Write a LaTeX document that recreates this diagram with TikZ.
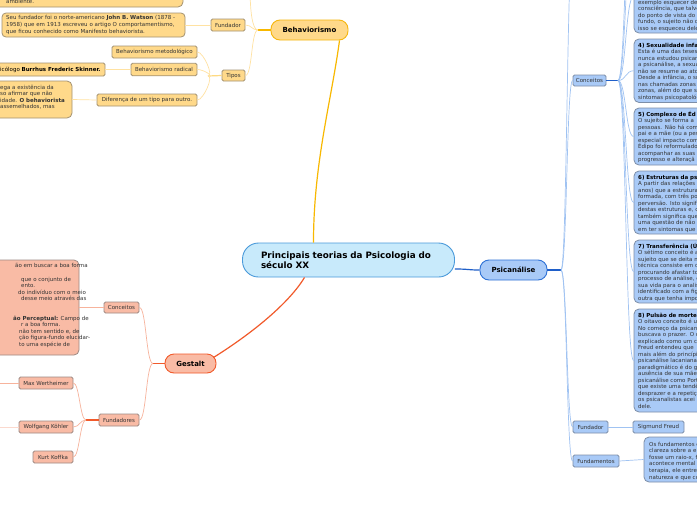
\documentclass[tikz,border=0pt]{standalone}
\usepackage{fontspec}
\setmainfont{DejaVu Sans}
\usepackage{tikz}
\usetikzlibrary{calc}
\definecolor{RootFill}{HTML}{C8EAFB}
\definecolor{RootStroke}{HTML}{4A9ADA}
\definecolor{BehFill}{HTML}{FFD98A}
\definecolor{BehStroke}{HTML}{F6B60E}
\definecolor{BehLeafStroke}{HTML}{A39272}
\definecolor{BehLine}{HTML}{FFE2A2}
\definecolor{BehDark}{HTML}{F8B800}
\definecolor{GesFill}{HTML}{F9BBA5}
\definecolor{GesStroke}{HTML}{F15A2B}
\definecolor{GesLeafStroke}{HTML}{9E8A84}
\definecolor{GesLine}{HTML}{F7B39C}
\definecolor{PsiFill}{HTML}{A9CAF7}
\definecolor{PsiStroke}{HTML}{2F72D6}
\definecolor{PsiLeafStroke}{HTML}{7D8EA8}
\definecolor{PsiLine}{HTML}{A0C3F2}
\definecolor{PsiDark}{HTML}{1F5FC9}
\definecolor{TextGray}{HTML}{333333}

\tikzset{
  topic/.style={draw, rounded corners=9pt, line width=0.9pt, inner sep=1pt,
    font=\bfseries\fontsize{7}{8}\selectfont},
  leaf/.style={draw, rounded corners=1.5pt, line width=0.8pt, inner sep=1pt,
    text=TextGray, font=\fontsize{5.5}{6.5}\selectfont},
  note/.style={draw, rounded corners=5pt, line width=0.8pt, inner sep=0pt},
  frag/.style={anchor=base west, inner sep=0pt, text=TextGray,
    font=\fontsize{5.5}{6.5}\selectfont},
  blk/.style={anchor=base west, inner sep=0pt, text width=110pt, align=left,
    text=TextGray, font=\fontsize{5.5}{6.5}\selectfont},
  link/.style={line width=0.7pt},
  trunk/.style={line width=1.2pt},
}

\begin{document}
\begin{tikzpicture}[x=1pt, y=-1pt]
\useasboundingbox (0,0) rectangle (697,520);
\clip (0,0) rectangle (697,520);
\fill[white] (0,0) rectangle (697,520);

% centre and main topics
\node[draw=RootStroke, fill=RootFill, line width=0.9pt, rounded corners=16pt,
  minimum width=212pt, minimum height=34pt, text width=175pt, align=left,
  font=\bfseries\fontsize{8.8}{10.5}\selectfont] (root) at (348.5,260)
  {Principais teorias da Psicologia do\\século XX};
\node[topic, draw=BehStroke, fill=BehFill, minimum width=77pt, minimum height=20pt] (beh) at (309.5,30) {Behaviorismo};
\node[topic, draw=GesStroke, fill=GesFill, minimum width=51pt, minimum height=19pt] (ges) at (190.5,363.5) {Gestalt};
\node[topic, draw=PsiStroke, fill=PsiFill, minimum width=67pt, minimum height=20pt] (psi) at (513.5,270) {Psicanálise};

\draw[trunk, BehDark] ($(root.north)+(-35,0)$) .. controls +(0,-80) and +(-8,60) .. ($(beh.south)+(30,0)$);
\draw[trunk, GesStroke] ($(root.south)+(-44,0)$) .. controls +(-15,25) and +(40,-25) .. ($(ges.east)+(-3,-6)$);
\draw[trunk, PsiDark] ($(root.east)+(0,9)$) .. controls +(14,0) and +(-12,0) .. (psi.west);

% Behaviorismo
\coordinate (behfan) at (258,30);
\coordinate (behup) at (250,-15);
\node[leaf, draw=BehLeafStroke, fill=BehFill, minimum width=34pt, minimum height=12pt] (bfund) at (228,25) {Fundador};
\node[leaf, draw=BehLeafStroke, fill=BehFill, minimum width=23pt, minimum height=11pt] (tipos) at (233.5,75.5) {Tipos};
\coordinate (tipfan) at (208,76);
\node[leaf, draw=BehLeafStroke, fill=BehFill, minimum width=85pt, minimum height=12pt] (bmet) at (154.5,52) {Behaviorismo metodológico};
\node[leaf, draw=BehLeafStroke, fill=BehFill, minimum width=66pt, minimum height=12.5pt] (brad) at (164,69.5) {Behaviorismo radical};
\node[leaf, draw=BehLeafStroke, fill=BehFill, minimum width=100pt, minimum height=12pt] (bdif) at (147,100) {Diferença de um tipo para outro.};

\node[note, draw=BehLeafStroke, fill=BehFill, minimum width=190pt, minimum height=50pt] (amb) at (88,-18) {};
\node[frag] (ambtxt) at (6,3.5) {ambiente.};
\node[note, draw=BehLeafStroke, fill=BehFill, rounded corners=4pt, minimum width=183pt, minimum height=24pt] (watson) at (93.5,25) {};
\node[blk, text width=200pt, font=\fontsize{5.5}{7}\selectfont] (watsontxt) at (6,19.5)
  {Seu fundador foi o norte-americano \textbf{John B. Watson} (1878 -\\
   1958) que em 1913 escreveu o artigo O comportamentismo,\\
   que ficou conhecido como Manifesto behaviorista.};
\node[leaf, draw=BehLeafStroke, fill=BehFill, minimum width=135pt, minimum height=13pt] (skin) at (37.5,69.5) {};
\node[frag, text=black] (skintxt) at (0,71.5) {icólogo \textbf{Burrhus Frederic Skinner.}};
\node[note, draw=BehLeafStroke, fill=BehFill, minimum width=112pt, minimum height=37pt] (difnote) at (16,99.5) {};
\node[frag] (dif1) at (0,89) {ega a existência da};
\node[frag] (dif2) at (0,95.5) {so afirmar que não};
\node[frag] (dif3) at (0,102) {idade. \textbf{O behaviorista}};
\node[frag] (dif4) at (0,108.5) {assemelhados, mas};

\draw[trunk, BehDark] (beh.west) -- (behfan);
\draw[link, BehLine] (behfan) .. controls +(-6,0) and +(0,25) .. (behup);
\draw[link, BehLine] (behfan) .. controls +(-6,0) and +(6,0) .. (bfund.east);
\draw[link, BehLine] (behfan) .. controls +(-7,0) and +(7,0) .. (tipos.east);
\draw[link, BehLine] (bfund.west) -- (watson.east);
\draw[trunk, BehLine!80!BehDark] (tipos.west) -- (tipfan);
\draw[link, BehLine] (tipfan) .. controls +(6,0) and +(6,0) .. (bmet.east);
\draw[link, BehLine] (tipfan) .. controls +(6,0) and +(6,0) .. (brad.east);
\draw[link, BehLine] (tipfan) .. controls +(6,0) and +(6,0) .. (bdif.east);
\draw[link, BehLine] (brad.west) -- (skin.east);
\draw[link, BehLine] (bdif.west) -- (difnote.east);

% Gestalt
\coordinate (gesfan) at (153,363.5);
\node[leaf, draw=GesLeafStroke, fill=GesFill, minimum width=35pt, minimum height=11pt] (gcon) at (121.5,307.5) {Conceitos};
\node[leaf, draw=GesLeafStroke, fill=GesFill, minimum width=40pt, minimum height=12pt] (gfund) at (119,420) {Fundadores};
\coordinate (fundfan) at (86,420);
\node[leaf, draw=GesLeafStroke, fill=GesFill, minimum width=54pt, minimum height=12pt] (max) at (46,383) {Max Wertheimer};
\node[leaf, draw=GesLeafStroke, fill=GesFill, minimum width=54pt, minimum height=12pt] (kohler) at (46,427) {Wolfgang Köhler};
\node[leaf, draw=GesLeafStroke, fill=GesFill, minimum width=40pt, minimum height=12pt] (koffka) at (53,457) {Kurt Koffka};
\coordinate (maxout) at (-5,383);
\coordinate (kohlerout) at (-5,427);
\node[note, draw=GesLeafStroke, fill=GesFill, minimum width=119pt, minimum height=95pt] (gnote) at (19.5,307.5) {};
\node[frag] (gn1) at (15,267) {ão em buscar a boa forma};
\node[frag] (gn2) at (21,281) {que o conjunto de};
\node[frag] (gn3) at (21,287.5) {ento.};
\node[frag] (gn4) at (18,294) {do indivíduo com o meio};
\node[frag] (gn5) at (21,300.5) {desse meio através das};
\node[frag] (gn6) at (13,320) {\textbf{ão Perceptual:} Campo de};
\node[frag] (gn7) at (21,326.5) {r a boa forma.};
\node[frag] (gn8) at (19,333) {não tem sentido e, de};
\node[frag] (gn9) at (19,339.5) {ção figura-fundo elucidar-};
\node[frag] (gn10) at (19,346) {to uma espécie de};

\draw[trunk, GesStroke] (ges.west) -- (gesfan);
\draw[link, GesLine] (gesfan) .. controls +(-7,0) and +(7,0) .. (gcon.east);
\draw[link, GesLine] (gesfan) .. controls +(-7,0) and +(7,0) .. (gfund.east);
\draw[link, GesLine] (gcon.west) -- (gnote.east);
\draw[trunk, GesStroke] (gfund.west) -- (fundfan);
\draw[link, GesLine] (fundfan) .. controls +(-6,0) and +(6,0) .. (max.east);
\draw[link, GesLine] (fundfan) .. controls +(-6,0) and +(6,0) .. (kohler.east);
\draw[link, GesLine] (fundfan) .. controls +(-6,0) and +(6,0) .. (koffka.east);
\draw[link, GesLine] (max.west) -- (maxout);
\draw[link, GesLine!50] (kohler.west) -- (kohlerout);

% Psicanalise
\coordinate (psifan) at (561,270);
\coordinate (psiup) at (573,-60);
\node[leaf, draw=PsiLeafStroke, fill=PsiFill, minimum width=33pt, minimum height=11pt] (pcon) at (589.5,80.5) {Conceitos};
\coordinate (confan) at (618,80.5);
\node[leaf, draw=PsiLeafStroke, fill=PsiFill, minimum width=35pt, minimum height=12pt] (pfund) at (590.5,427) {Fundador};
\node[leaf, draw=PsiLeafStroke, fill=PsiFill, minimum width=51pt, minimum height=12pt] (freud) at (658.5,427) {Sigmund Freud};
\node[leaf, draw=PsiLeafStroke, fill=PsiFill, minimum width=46pt, minimum height=12pt] (pfundm) at (596,461) {Fundamentos};
\node[note, draw=PsiLeafStroke, fill=PsiFill, minimum width=116pt, minimum height=45pt] (fundnote) at (702,459.5) {};
\node[blk, font=\fontsize{5.5}{6.6}\selectfont] (fundtxt) at (649,446)
  {Os fundamentos e\\clareza sobre a e\\fosse um raio-x, f\\acontece mental r\\terapia, ele entre\\natureza e que co};

\coordinate (c1in) at (634,-160);
\coordinate (c2in) at (634,-85);
\node[note, draw=PsiLeafStroke, fill=PsiFill, minimum width=110pt, minimum height=73pt] (c3) at (689,-3.5) {};
\node[note, draw=PsiLeafStroke, fill=PsiFill, minimum width=110pt, minimum height=63.5pt] (c4) at (689,70.75) {};
\node[note, draw=PsiLeafStroke, fill=PsiFill, minimum width=110pt, minimum height=57pt] (c5) at (689,136.5) {};
\node[note, draw=PsiLeafStroke, fill=PsiFill, minimum width=110pt, minimum height=63pt] (c6) at (689,202.5) {};
\node[note, draw=PsiLeafStroke, fill=PsiFill, minimum width=110pt, minimum height=63pt] (c7) at (689,271.5) {};
\node[note, draw=PsiLeafStroke, fill=PsiFill, minimum width=110pt, minimum height=103pt] (c8) at (689,360.5) {};

\node[blk] (c3t) at (638,4)
  {exemplo esquecer de\\consciência, que talve\\do ponto de vista do\\fundo, o sujeito não c\\isso se esqueceu dele};
\node[blk] (c4t) at (638,47)
  {\textbf{\textcolor{black}{4) Sexualidade infa}}\\Esta é uma das teses\\nunca estudou psican\\a psicanálise, a sexual\\não se resume ao ato\\Desde a infância, o su\\nas chamadas zonas\\zonas, além do que s\\sintomas psicopatológ};
\node[blk] (c5t) at (638,116)
  {\textbf{\textcolor{black}{5) Complexo de Éd}}\\O sujeito se forma a\\pessoas. Não há com\\pai e a mãe (ou a pes\\especial impacto com\\Édipo foi reformulado\\acompanhar as suas\\progresso e alteraçã};
\node[blk] (c6t) at (638,179)
  {\textbf{\textcolor{black}{6) Estruturas da ps}}\\A partir das relações\\anos) que a estrutura\\formada, com três po\\perversão. Isto signif\\destas estruturas e, c\\também significa que\\uma questão de não\\em ter sintomas que};
\node[blk] (c7t) at (638,248)
  {\textbf{\textcolor{black}{7) Transferência (Ú}}\\O sétimo conceito é a\\sujeito que se deita n\\técnica consiste em c\\procurando afastar to\\processo de análise, c\\sua vida para o analis\\identificado com a fig\\outra que tenha impo};
\node[blk] (c8t) at (638,317)
  {\textbf{\textcolor{black}{8) Pulsão de morte}}\\O oitavo conceito é u\\No começo da psicana\\buscava o prazer. O c\\explicado como um c\\Freud entendeu que\\mais além do princípi\\psicanálise lacaniana\\paradigmático é do g\\ausência de sua mãe\\psicanálise como Port\\que existe uma tendê\\desprazer e a repetiç\\os psicanalistas acei\\dele.};

\draw[trunk, PsiDark] (psi.east) -- (psifan);
\draw[link, PsiLine] (psifan) .. controls +(6,0) and +(-6,0) .. (psiup);
\draw[link, PsiLine] (psifan) .. controls +(6,0) and +(-6,0) .. (pcon.west);
\draw[link, PsiLine] (psifan) .. controls +(6,0) and +(-6,0) .. (pfund.west);
\draw[link, PsiLine] (psifan) .. controls +(6,0) and +(-6,0) .. (pfundm.west);
\draw[link, PsiLine] (pfund.east) -- (freud.west);
\draw[link, PsiLine] (pfundm.east) -- (fundnote.west);
\draw[trunk, PsiDark] (pcon.east) -- (confan);
\draw[link, PsiLine] (confan) .. controls +(8,0) and +(-8,0) .. (c1in);
\draw[link, PsiLine] (confan) .. controls +(8,0) and +(-8,0) .. (c2in);
\draw[link, PsiLine] (confan) .. controls +(8,0) and +(-8,0) .. (c3.west);
\draw[link, PsiLine] (confan) .. controls +(8,0) and +(-8,0) .. (c4.west);
\draw[link, PsiLine] (confan) .. controls +(8,0) and +(-8,0) .. (c5.west);
\draw[link, PsiLine] (confan) .. controls +(8,0) and +(-8,0) .. (c6.west);
\draw[link, PsiLine] (confan) .. controls +(8,0) and +(-8,0) .. (c7.west);
\draw[link, PsiLine] (confan) .. controls +(8,0) and +(-8,0) .. (c8.west);
\end{tikzpicture}
\end{document}
